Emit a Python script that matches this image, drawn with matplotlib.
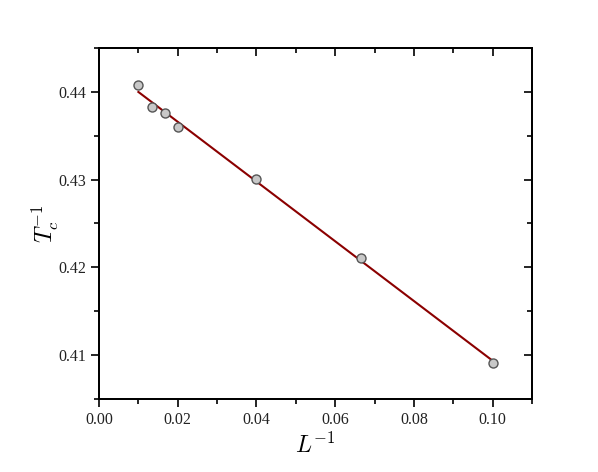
import numpy as np
import matplotlib
matplotlib.use("Agg")
import matplotlib.pyplot as plt
from matplotlib.ticker import MultipleLocator, FormatStrFormatter

L_inv = [0.01, 1/75, 1/60, 0.02, 0.04, 1/15, 0.10]
Tc_inv = [0.4408, 0.4383, 0.4376, 0.4360, 0.4301, 0.4211, 0.4091]

plt.rcParams['font.family'] = ['Liberation Serif', 'DejaVu Serif']
plt.rcParams['mathtext.fontset'] = 'cm'

fig = plt.figure(figsize=(5.98, 4.72), dpi=100)
ax = fig.add_axes([0.1656, 0.1547, 0.724, 0.7436])

slope, intercept = np.polyfit(L_inv, Tc_inv, 1)
xf = np.array([min(L_inv), max(L_inv)])
ax.plot(xf, slope * xf + intercept, color='#8b0000', lw=1.5, zorder=2)
ax.plot(L_inv, Tc_inv, 'o', ms=6.5, mfc='#c8c8c8', mec='#555555', mew=1.0, zorder=3)

ax.set_xlim(0, 0.11)
ax.set_ylim(0.405, 0.445)
ax.xaxis.set_major_locator(MultipleLocator(0.02))
ax.xaxis.set_minor_locator(MultipleLocator(0.01))
ax.yaxis.set_major_locator(MultipleLocator(0.01))
ax.yaxis.set_minor_locator(MultipleLocator(0.005))
ax.xaxis.set_major_formatter(FormatStrFormatter('%.2f'))
ax.yaxis.set_major_formatter(FormatStrFormatter('%.2f'))

ax.tick_params(which='both', direction='out', top=False, right=False, labelsize=11.5, width=1.2,
               labelcolor='#222222')
ax.tick_params(which='major', length=6)
ax.tick_params(which='minor', length=3.5)

# inward ticks on top and right
axt = ax.twiny()
axt.set_xlim(ax.get_xlim())
axt.xaxis.set_major_locator(MultipleLocator(0.02))
axt.xaxis.set_minor_locator(MultipleLocator(0.01))
axt.tick_params(which='both', direction='in', labeltop=False, top=True, bottom=False, width=1.2)
axt.tick_params(which='major', length=6)
axt.tick_params(which='minor', length=3.5)
axr = ax.twinx()
axr.set_ylim(ax.get_ylim())
axr.yaxis.set_major_locator(MultipleLocator(0.01))
axr.yaxis.set_minor_locator(MultipleLocator(0.005))
axr.tick_params(which='both', direction='in', labelright=False, right=True, left=False, width=1.2)
axr.tick_params(which='major', length=6)
axr.tick_params(which='minor', length=3.5)

for a in (ax, axt, axr):
    for s in a.spines.values():
        s.set_linewidth(1.2)

ax.set_xlabel(r'$L^{-1}$', fontsize=17, labelpad=3)
ax.set_ylabel(r'$T_c^{-1}$', fontsize=17, labelpad=-2)

fig.savefig('out.png', dpi=100)
